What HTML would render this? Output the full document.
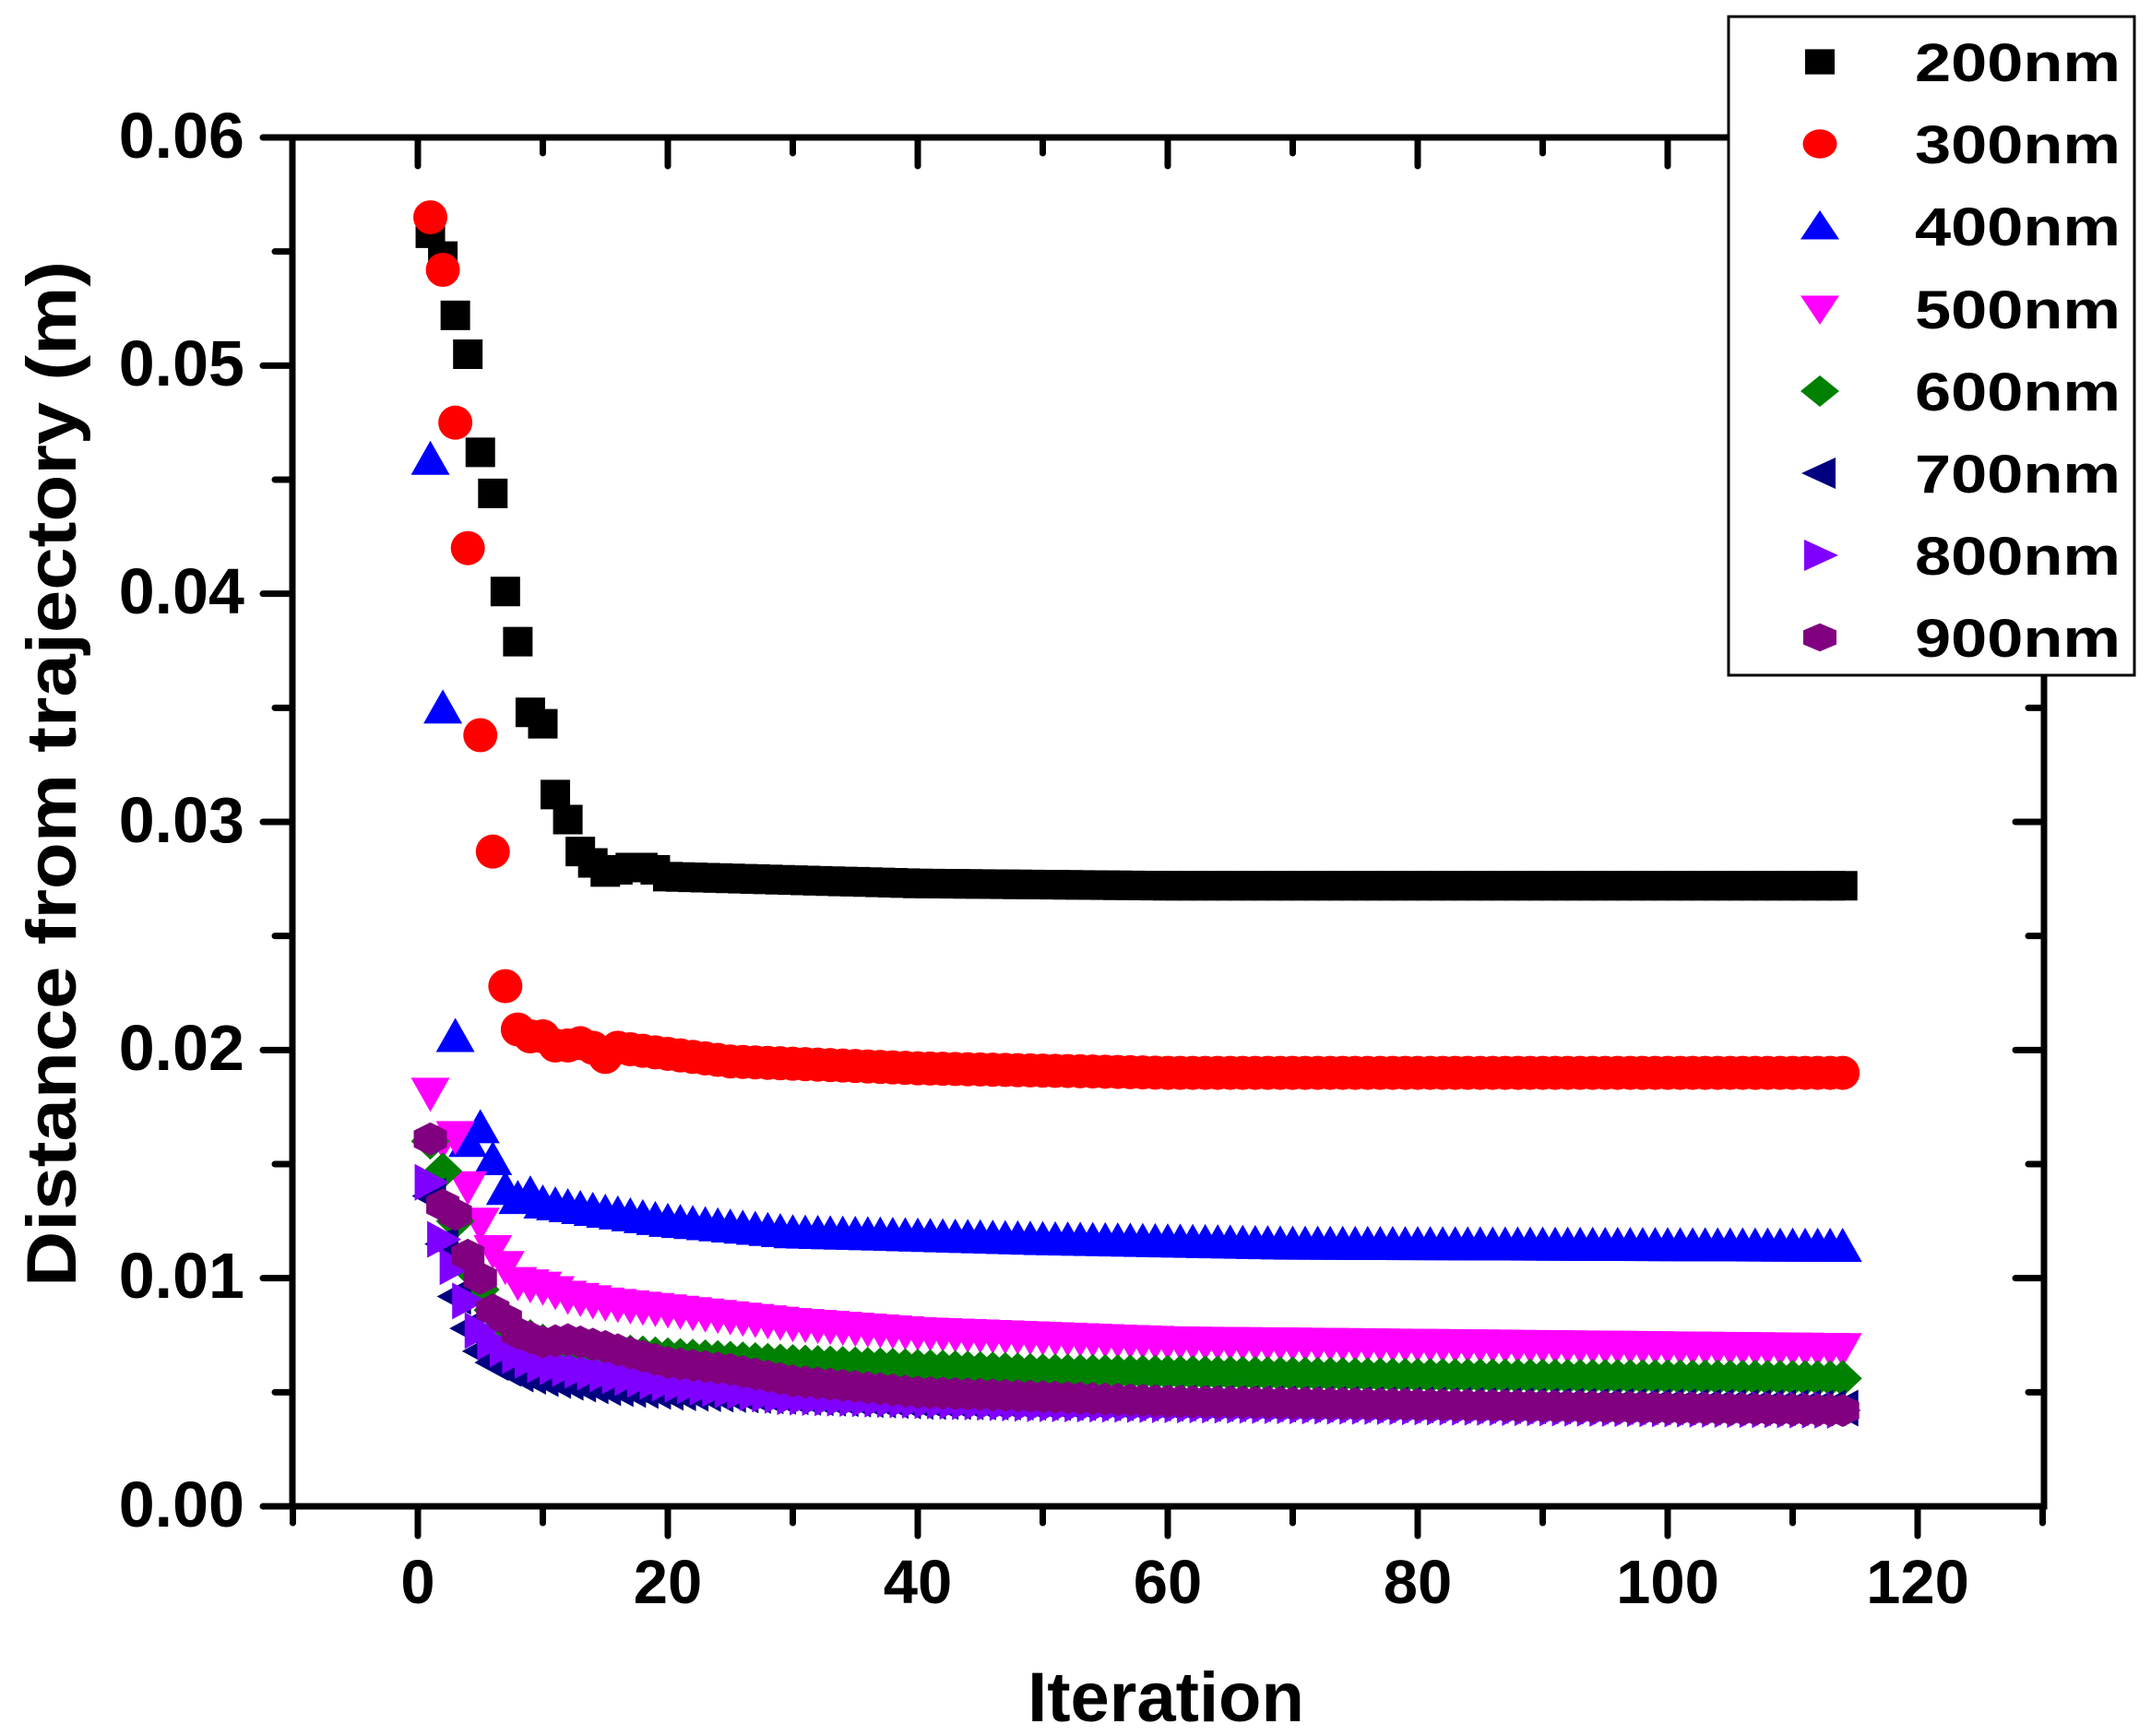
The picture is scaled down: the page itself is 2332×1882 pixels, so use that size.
<!DOCTYPE html>
<html><head><meta charset="utf-8"><style>
html,body{margin:0;padding:0;background:#fff;}
svg{display:block;}
text{font-family:"Liberation Sans",Arial,sans-serif;font-weight:bold;fill:#000;}
</style></head><body>
<svg id="s" width="2332" height="1882" viewBox="0 0 2332 1882" xmlns="http://www.w3.org/2000/svg">
<g id="data"></g>
<g stroke="#000" stroke-width="7" fill="none" stroke-linecap="round">
<rect x="317" y="149" width="1899" height="1484"/>
<g id="ticks"></g>
</g>
<g font-size="70" text-anchor="end">
<text x="265" y="171">0.06</text>
<text x="265" y="418">0.05</text>
<text x="265" y="665">0.04</text>
<text x="265" y="913">0.03</text>
<text x="265" y="1160">0.02</text>
<text x="265" y="1407">0.01</text>
<text x="265" y="1655">0.00</text>
</g>
<g font-size="67" text-anchor="middle">
<text x="453" y="1738">0</text>
<text x="724" y="1738">20</text>
<text x="995" y="1738">40</text>
<text x="1266" y="1738">60</text>
<text x="1537" y="1738">80</text>
<text x="1808" y="1738">100</text>
<text x="2079" y="1738">120</text>
</g>
<text x="1264" y="1866" font-size="76" text-anchor="middle">Iteration</text>
<text transform="translate(82,839) rotate(-90)" font-size="76" text-anchor="middle" textLength="1112" lengthAdjust="spacingAndGlyphs">Distance from trajectory  (m)</text>
<rect x="1874" y="18" width="440" height="714" fill="#fff" stroke="#000" stroke-width="3"/>
<g id="leg"></g>
<g font-size="58">
<text x="2076" y="88" textLength="223" lengthAdjust="spacingAndGlyphs">200nm</text>
<text x="2076" y="177" textLength="223" lengthAdjust="spacingAndGlyphs">300nm</text>
<text x="2076" y="266" textLength="223" lengthAdjust="spacingAndGlyphs">400nm</text>
<text x="2076" y="356" textLength="223" lengthAdjust="spacingAndGlyphs">500nm</text>
<text x="2076" y="445" textLength="223" lengthAdjust="spacingAndGlyphs">600nm</text>
<text x="2076" y="534" textLength="223" lengthAdjust="spacingAndGlyphs">700nm</text>
<text x="2076" y="623" textLength="223" lengthAdjust="spacingAndGlyphs">800nm</text>
<text x="2076" y="712" textLength="223" lengthAdjust="spacingAndGlyphs">900nm</text>
</g>
</svg>
<script>
var NS="http://www.w3.org/2000/svg";
function X(v){return 453+v*13.55;}
function Y(v){return 1633-v*24733;}
var t=document.getElementById('ticks'),d='';
for(var i=0;i<=14;i++){var x=X(-10+i*10),maj=(i%2==1);
 d+='M'+x+' 1633V'+(1633+(maj?32:18));
 if(x>320&&x<2212)d+='M'+x+' 149V'+(149+(maj?31:17));}
for(var j=0;j<=12;j++){var y=Y(j*0.005),maj=(j%2==0);
 d+='M317 '+y+'H'+(317-(maj?32:19));
 if(y>152&&y<1630)d+='M2216 '+y+'H'+(2216-(maj?31:17));}
d+='M286 1633H317';
var p=document.createElementNS(NS,'path');p.setAttribute('d',d);t.appendChild(p);
function shape(type,cx,cy,col,sx,sy){
 var e;sx=sx||1;sy=sy||1;
 function poly(pts){e=document.createElementNS(NS,'polygon');
  e.setAttribute('points',pts.map(function(q){return (cx+q[0]*sx)+','+(cy+q[1]*sy);}).join(' '));}
 if(type=='sq'){poly([[-16,-16],[16,-16],[16,16],[-16,16]]);}
 else if(type=='ci'){e=document.createElementNS(NS,'ellipse');e.setAttribute('cx',cx);e.setAttribute('cy',cy);e.setAttribute('rx',18.5*sx);e.setAttribute('ry',18.5*sy);}
 else if(type=='up'){poly([[0,-20],[21,17],[-21,17]]);}
 else if(type=='dn'){poly([[0,20],[21,-17],[-21,-17]]);}
 else if(type=='di'){poly([[0,-20],[21,0],[0,20],[-21,0]]);}
 else if(type=='lt'){poly([[-20,0],[17,-20],[17,20]]);}
 else if(type=='rt'){poly([[20,0],[-17,-20],[-17,20]]);}
 else if(type=='hx'){poly([[-18,-9],[0,-18],[18,-9],[18,9],[0,18],[-18,9]]);}
 e.setAttribute('fill',col);return e;}
var S=[
['sq','#000',[[1,.0558],[2,.0548],[3,.0522],[4,.0505],[5,.0462],[6,.0444],[7,.0401],[8,.0379],[9,.0348],[10,.0343],[11,.0312],[12,.0301],[13,.0287],[14,.0282],[15,.0278],[16,.0279],[17,.028],[18,.028],[19,.0279],[20,.0276],[40,.0273],[60,.0272],[115,.0272]]],
['ci','#ff0000',[[1,.0565],[2,.0542],[3,.0475],[4,.042],[5,.0338],[6,.0287],[7,.0228],[8,.0209],[9,.0206],[10,.0206],[11,.0202],[12,.0202],[13,.0203],[14,.0201],[15,.0197],[16,.0201],[25,.0195],[40,.0192],[60,.019],[115,.019]]],
['up','#0000ff',[[1,.0459],[2,.035],[3,.0206],[4,.016],[5,.0166],[6,.0152],[7,.0139],[8,.0135],[9,.0137],[10,.0133],[20,.0125],[30,.012],[50,.0117],[70,.0115],[115,.0114]]],
['dn','#ff00ff',[[1,.0181],[2,.016],[3,.0162],[4,.014],[5,.0124],[6,.0112],[7,.0105],[8,.0098],[9,.0097],[10,.0096],[12,.0092],[15,.0089],[20,.0086],[30,.008],[40,.0076],[60,.0072],[115,.0069]]],
['di','#008000',[[1,.016],[2,.0147],[3,.0125],[4,.0105],[5,.0095],[6,.0086],[7,.008],[8,.0076],[10,.0072],[15,.0068],[20,.0066],[30,.0063],[50,.0059],[80,.0057],[115,.0056]]],
['lt','#000080',[[1,.0136],[2,.0115],[3,.0092],[4,.0078],[5,.0068],[6,.0063],[8,.0058],[10,.0056],[15,.0052],[20,.005],[40,.0046],[115,.0043]]],
['rt','#8000ff',[[1,.0142],[2,.0117],[3,.0105],[4,.009],[5,.0077],[6,.0072],[8,.0066],[10,.0062],[15,.0058],[20,.0054],[30,.0048],[50,.0045],[115,.0042]]],
['hx','#800080',[[1,.0161],[2,.0132],[3,.0128],[4,.011],[5,.01],[6,.0086],[7,.0082],[8,.0076],[10,.0072],[12,.0073],[15,.007],[20,.0063],[25,.006],[30,.0055],[40,.005],[60,.0046],[115,.0042]]]];
var g=document.getElementById('data'),L=document.getElementById('leg');
function interp(k,x){for(var i=0;i<k.length-1;i++){if(x>=k[i][0]&&x<=k[i+1][0]){var f=(x-k[i][0])/(k[i+1][0]-k[i][0]);return k[i][1]+f*(k[i+1][1]-k[i][1]);}}return k[k.length-1][1];}
var ly=[67,156,245,335,424,513,602,691];
S.forEach(function(s,n){
 for(var x=1;x<=114;x++){g.appendChild(shape(s[0],X(x),Y(interp(s[2],x)),s[1]));}
 L.appendChild(shape(s[0],1973,ly[n],s[1],1.0,0.85));
});
</script>
</body></html>
